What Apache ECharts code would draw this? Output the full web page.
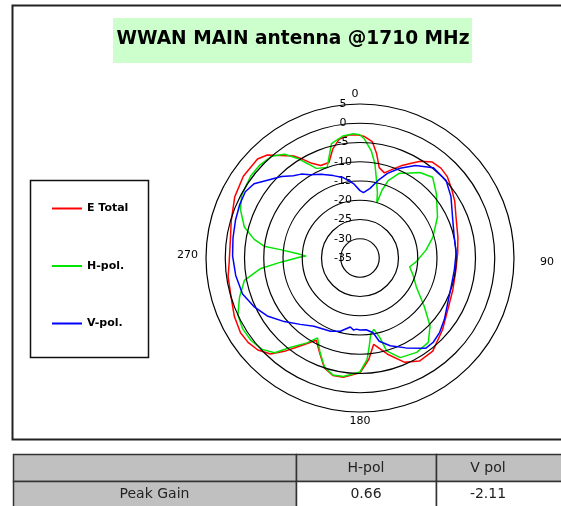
<!DOCTYPE html>
<html><head><meta charset="utf-8">
<script src="https://cdn.jsdelivr.net/npm/echarts@6/dist/echarts.min.js"></script>
<style>html,body{margin:0;padding:0;background:#fff}#c{width:561px;height:506px}</style>
</head><body><div id="c"></div>
<script>
const titleText = 'WWAN MAIN antenna @1710 MHz';
const seriesNames = ['E Total', 'H-pol.', 'V-pol.'];
const seriesColors = ['#ff0000', '#00e600', '#0000ff'];
const radiusMin = -35, radiusMax = 5, radiusStep = 5;
const angleTickValues = [0, 90, 180, 270];
const angleTickLabels = ['0', '90', '180', '270'];

const eTotalAngles = [0,2,6,9,12,16,20,24,28,32,37,42,47,53,59,67,78,87,97,109,120,131,142,150,157,164,171,175,180,188,193,198,203,208,214,219,223,228,233,238,245,253,262,268,278,286,296,305,314,318,322,327,330,333,337,342,346,350,355,358];
const eTotalValues = [-3.1,-3.4,-4.6,-7.5,-11,-12,-10.5,-8.8,-7.2,-5.4,-3.8,-3.6,-4.0,-5.2,-6.3,-7.9,-9.0,-9.6,-9.9,-9.5,-8.6,-6.6,-4.3,-4.1,-5.6,-9.0,-12.3,-8.6,-5.2,-3.7,-3.7,-5.0,-8.2,-10.8,-7.5,-3.8,-0.9,0.7,1.4,1.6,1.0,0,-0.4,-1.0,-1.0,-0.2,1.2,2.0,2.0,1.0,-1.2,-3.4,-5.4,-7.4,-8.9,-8.9,-5.8,-3.7,-2.9,-3.0];

const hPolAngles = [0,2,6,9,12,15,17,18,20,25,29,35,42,50,62,74,83,94,100,108,117,127,134,141,149,158,164,166,169,172,174,176,180,188,193,198,203,208,212,218,222,227,233,239,245,252,259,264,267,271,272,274,276,277,280,285,292,298,307,313,319,324,328,331,334,340,346,352,357];
const hPolValues = [-3.0,-4.0,-7.0,-10.2,-14.4,-17.5,-20.1,-16.5,-13.6,-10.7,-9.8,-7.9,-6.8,-9.1,-12.2,-15.3,-17.7,-20.4,-21.9,-20.5,-18.6,-14.1,-9.7,-6.8,-6.4,-7.1,-9.9,-13.7,-16.1,-15,-12,-8.6,-5.4,-3.9,-3.8,-5.2,-8.4,-11.5,-9.0,-5.5,-1.9,-0.2,0.5,0.6,0,-2.1,-4.4,-9.1,-14.4,-19.5,-21,-18.6,-14.2,-9.9,-7.1,-3.9,-1.5,-0.2,0.5,0.5,0,-1.7,-4.5,-7,-9.1,-10.0,-4.4,-3.0,-2.7];

const vPolAngles = [0,3,8,13,18,24,31,39,48,56,66,77,87,97,107,117,126,133,139,144,153,161,167,170,175,180,183,185,188,195,202,214,222,230,238,245,253,262,271,279,287,294,300,305,310,316,321,325,329,335,342,348,355];
const vPolValues = [-17.5,-18,-16.8,-14.4,-11.9,-9.5,-7,-4.8,-4.9,-6.5,-8.7,-9.9,-10,-10.3,-10.2,-9.4,-7.9,-6.7,-6,-6,-8.8,-10.9,-12.8,-15.3,-16.3,-16.3,-16.5,-16.2,-16.9,-15.3,-14.5,-13.6,-11.8,-9.3,-6.6,-4.8,-3.1,-2.4,-1.9,-1.6,-1.2,-0.8,-0.6,-1.4,-3.6,-5.6,-7.5,-8.4,-9.8,-11,-12.5,-13.6,-15.6];

const tableHeaders = ['', 'H-pol', 'V pol'];
const tableRowLabel = 'Peak Gain';
const peakGainValues = ['0.66', '-2.11'];

function closedLoop(angles, values) {
  const d = angles.map((a, i) => [values[i], a]);
  d.push([values[0], angles[0] + 360]);
  return d;
}
const seriesData = [
  closedLoop(eTotalAngles, eTotalValues),
  closedLoop(hPolAngles, hPolValues),
  closedLoop(vPolAngles, vPolValues)
];

const chart = echarts.init(document.getElementById('c'), null, {renderer: 'canvas'});

const cx = 360, cy = 258, R = 154;
const fontFam = 'DejaVu Sans, Arial, sans-serif';

// table geometry
const colX = [13, 296, 436, 566];
const rowY = [454, 481, 512];
const tableGraphics = [];
for (let r = 0; r < 2; r++) {
  for (let c = 0; c < 3; c++) {
    const grey = (r === 0) || (c === 0);
    tableGraphics.push({
      type: 'rect', z: 1,
      shape: {x: colX[c] + 0.5, y: rowY[r] + 0.5, width: colX[c + 1] - colX[c], height: rowY[r + 1] - rowY[r]},
      style: {fill: grey ? '#c0c0c0' : '#ffffff', stroke: '#333', lineWidth: 1.5}
    });
  }
}
const cellText = (txt, c, r) => ({
  type: 'text', z: 2,
  x: c === 2 ? 488 : (colX[c] + colX[c + 1]) / 2,
  y: (rowY[r] + Math.min(rowY[r + 1], 506)) / 2 + 1,
  style: {text: txt, fill: '#222', font: '14px ' + fontFam, align: 'center', verticalAlign: 'middle'}
});
tableGraphics.push(cellText(tableHeaders[1], 1, 0));
tableGraphics.push(cellText(tableHeaders[2], 2, 0));
tableGraphics.push(cellText(tableRowLabel, 0, 1));
tableGraphics.push(cellText(peakGainValues[0], 1, 1));
tableGraphics.push(cellText(peakGainValues[1], 2, 1));

const option = {
  animation: false,
  backgroundColor: '#ffffff',
  title: {
    text: titleText,
    left: 293, top: 30, textAlign: 'center',
    padding: 0,
    textStyle: {fontFamily: fontFam, fontSize: 18.6, fontWeight: 'bold', color: '#000'}
  },
  legend: {
    orient: 'vertical', left: 52, top: 203, padding: 0,
    itemWidth: 30, itemHeight: 2, itemGap: 46.5,
    icon: 'rect',
    data: seriesNames,
    textStyle: {fontFamily: fontFam, fontSize: 11, fontWeight: 'bold', color: '#000'}
  },
  polar: {center: [cx, cy], radius: R},
  angleAxis: {
    type: 'value', min: 0, max: 360, interval: 90, startAngle: 90, clockwise: true,
    axisLine: {show: false}, axisTick: {show: false}, splitLine: {show: false},
    axisLabel: {
      margin: 4, color: '#000', fontFamily: fontFam, fontSize: 11,
      formatter: function (v) {
        const i = angleTickValues.indexOf(v);
        if (i < 0) return '';
        return '{a' + i + '|' + angleTickLabels[i] + '}';
      },
      rich: {
        a0: {fontFamily: fontFam, fontSize: 11, color: '#000', padding: [0, 10, 0, 0]},
        a1: {fontFamily: fontFam, fontSize: 11, color: '#000', padding: [8, 0, 0, 22]},
        a2: {fontFamily: fontFam, fontSize: 11, color: '#000'},
        a3: {fontFamily: fontFam, fontSize: 11, color: '#000', padding: [0, 4, 6, 0]}
      }
    }
  },
  radiusAxis: {
    type: 'value', min: radiusMin, max: radiusMax, interval: radiusStep,
    axisLine: {show: false}, axisTick: {show: false},
    splitLine: {show: true, lineStyle: {color: '#000', width: 1.2}},
    axisLabel: {margin: 17, align: 'center', color: '#000', fontFamily: fontFam, fontSize: 11, showMinLabel: true, showMaxLabel: true},
    z: 5
  },
  series: seriesNames.map((n, i) => ({
    name: n, type: 'line', coordinateSystem: 'polar',
    data: seriesData[i], showSymbol: false, symbol: 'none', smooth: false,
    lineStyle: {color: seriesColors[i], width: 1.5},
    itemStyle: {color: seriesColors[i]},
    z: 3 + i
  })),
  graphic: [
    {type: 'rect', z: -10, shape: {x: 12.5, y: 5.5, width: 620, height: 434}, style: {fill: '#fff', stroke: '#222', lineWidth: 2}},
    {type: 'rect', z: -9, shape: {x: 113, y: 18, width: 359, height: 45}, style: {fill: '#ccffcc'}},
    {type: 'rect', z: -9, shape: {x: 30.5, y: 180.5, width: 118, height: 177}, style: {fill: 'none', stroke: '#111', lineWidth: 1.5}}
  ].concat(tableGraphics)
};
chart.setOption(option);
</script>
</body></html>
